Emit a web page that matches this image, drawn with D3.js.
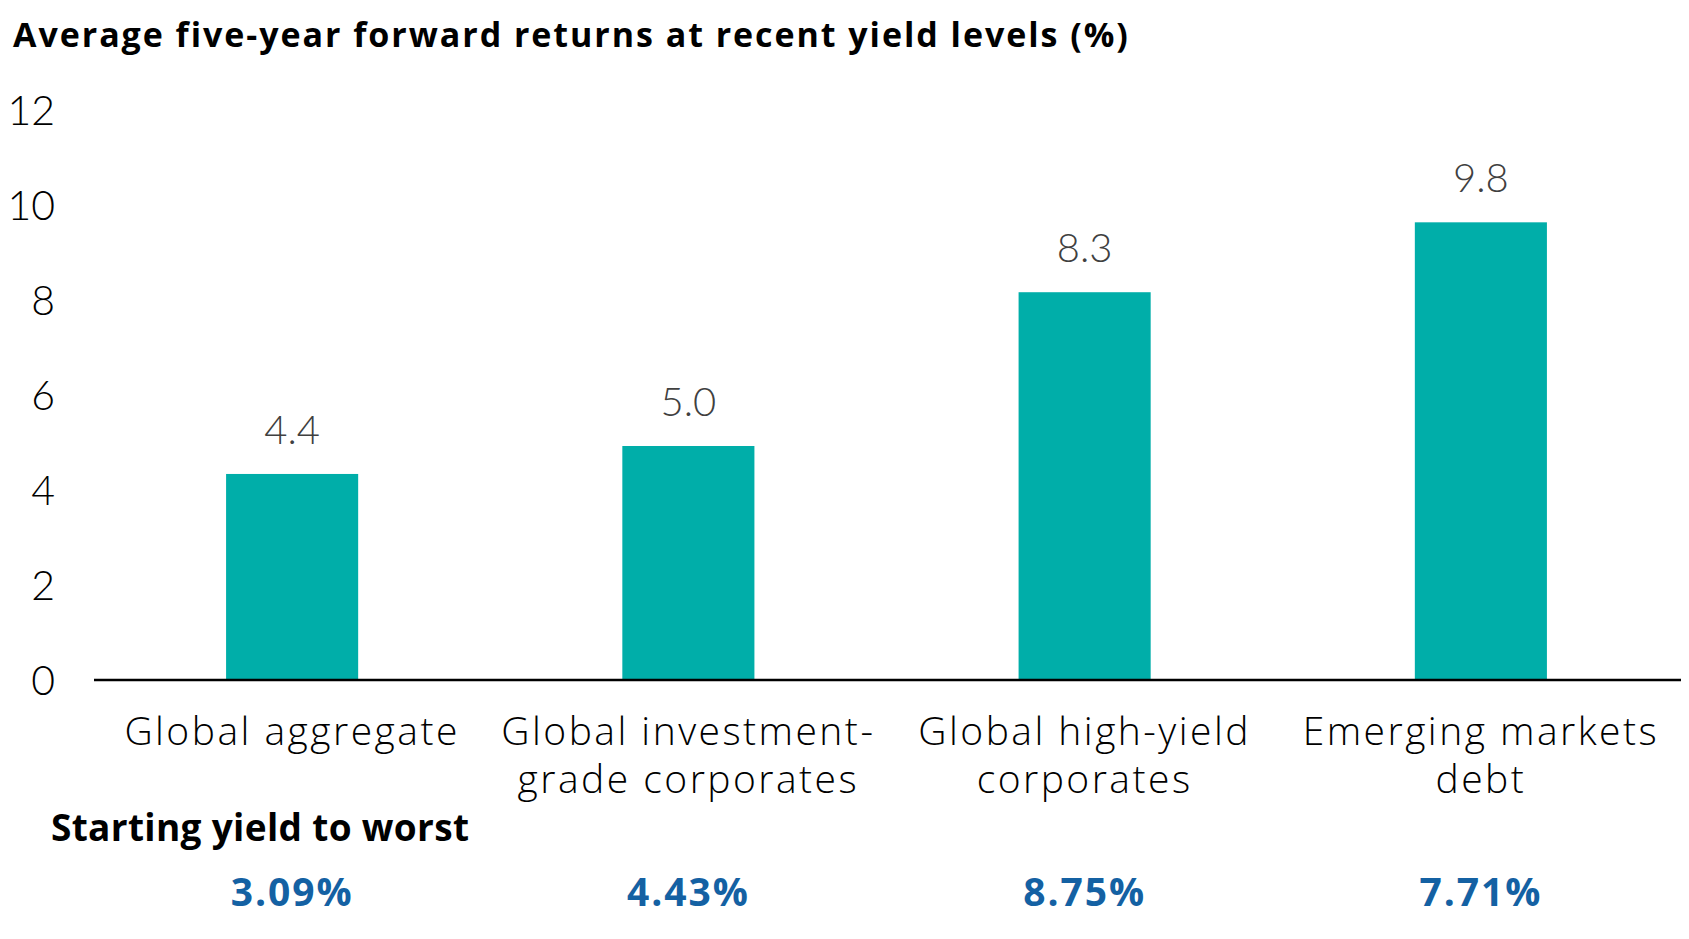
<!DOCTYPE html>
<html>
<head>
<meta charset="utf-8">
<script src="https://cdn.jsdelivr.net/npm/d3@7"></script>
<style>
  html, body { margin: 0; padding: 0; background: #fff; }
  svg { display: block; font-family: "Open Sans", "Noto Sans", sans-serif; }
</style>
</head>
<body>
<div id="chart"></div>
<script>
// Chart data
const titleText = "Average five-year forward returns at recent yield levels (%)";
const categories = ["Global aggregate", "Global investment-grade corporates", "Global high-yield corporates", "Emerging markets debt"];
const categoryLines = [["Global aggregate"], ["Global investment-", "grade corporates"], ["Global high-yield", "corporates"], ["Emerging markets", "debt"]];
const returns = [4.4, 5.0, 8.3, 9.8];
const startingYields = [3.09, 4.43, 8.75, 7.71];
const yTicks = [0, 2, 4, 6, 8, 10, 12];
const yieldHeading = "Starting yield to worst";

const width = 1689, height = 939;

const svg = d3.select("#chart").append("svg")
    .attr("width", width)
    .attr("height", height);

// widen letter spacing so a text node reaches the width it has in the original
function fitSpacing(sel, target) {
    const node = sel.node();
    const n = node.getNumberOfChars();
    const w = node.getComputedTextLength();
    const ls = (target - w) / Math.max(1, n - 1);
    sel.attr("letter-spacing", ls.toFixed(2));
    return ls;
}

// Scales
const x = d3.scaleBand()
    .domain(categories)
    .range([94, 1679])
    .paddingInner(2 / 3)
    .paddingOuter(1 / 3);

const y = d3.scaleLinear()
    .domain([0, 12])
    .range([679, 679 - 12 * 46.6]);

// tick labels sit a little more spread out than the bars
const yLabel = d3.scaleLinear()
    .domain([0, 12])
    .range([681, 111]);

// Title
const title = svg.append("text")
    .attr("x", 13)
    .attr("y", 47)
    .attr("font-size", 34)
    .attr("font-weight", 700)
    .attr("fill", "#000")
    .text(titleText);
fitSpacing(title, 1115);

// Y axis labels (no line, no ticks)
const yAxis = svg.append("g")
    .attr("transform", "translate(55,0)")
    .call(d3.axisLeft(yLabel).tickValues(yTicks).tickSize(0).tickPadding(0).tickFormat(d3.format("d")));
yAxis.select(".domain").remove();
yAxis.selectAll("text")
    .attr("font-family", "Lato, sans-serif")
    .attr("font-size", 41)
    .attr("font-weight", 300)
    .attr("fill", "#000");

// Bars
svg.selectAll(".bar")
    .data(returns)
    .enter()
    .append("rect")
    .attr("class", "bar")
    .attr("x", (d, i) => x(categories[i]))
    .attr("y", d => y(d))
    .attr("width", x.bandwidth())
    .attr("height", d => y(0) - y(d))
    .attr("fill", "#00aea9");

// Value labels
svg.selectAll(".value")
    .data(returns)
    .enter()
    .append("text")
    .attr("class", "value")
    .attr("x", (d, i) => x(categories[i]) + x.bandwidth() / 2)
    .attr("y", d => y(d) - 30)
    .attr("text-anchor", "middle")
    .attr("font-family", "Lato, sans-serif")
    .attr("font-size", 40)
    .attr("font-weight", 300)
    .attr("fill", "#404040")
    .text(d => d3.format(".1f")(d));

// Baseline
svg.append("line")
    .attr("x1", x.range()[0])
    .attr("x2", 1681)
    .attr("y1", y(0) + 1)
    .attr("y2", y(0) + 1)
    .attr("stroke", "#000")
    .attr("stroke-width", 2.5);

// Category labels
const catLabels = svg.selectAll(".cat")
    .data(categories)
    .enter()
    .append("text")
    .attr("class", "cat")
    .attr("text-anchor", "middle")
    .attr("font-size", 39)
    .attr("font-weight", 300)
    .attr("fill", "#000");

catLabels.each(function (d, i) {
    const cx = x(d) + x.bandwidth() / 2;
    d3.select(this).selectAll("tspan")
        .data(categoryLines[i])
        .enter()
        .append("tspan")
        .attr("x", cx)
        .attr("y", (line, j) => 745 + j * 48)
        .text(line => line);
});
const catSpacing = fitSpacing(catLabels.filter((d, i) => i === 0), 333);
catLabels.attr("letter-spacing", catSpacing.toFixed(2));

// Starting yield heading
const heading = svg.append("text")
    .attr("x", 51)
    .attr("y", 841)
    .attr("font-size", 37)
    .attr("font-weight", 700)
    .attr("fill", "#000")
    .text(yieldHeading);
fitSpacing(heading, 418);

// Starting yield values
const yieldLabels = svg.selectAll(".yield")
    .data(startingYields)
    .enter()
    .append("text")
    .attr("class", "yield")
    .attr("x", (d, i) => x(categories[i]) + x.bandwidth() / 2)
    .attr("y", 906)
    .attr("text-anchor", "middle")
    .attr("font-size", 39)
    .attr("font-weight", 700)
    .attr("fill", "#1461a3")
    .text(d => d3.format(".2f")(d) + "%");
const ySpacing = fitSpacing(yieldLabels.filter((d, i) => i === 1), 121);
yieldLabels.attr("letter-spacing", ySpacing.toFixed(2));
</script>
</body>
</html>
